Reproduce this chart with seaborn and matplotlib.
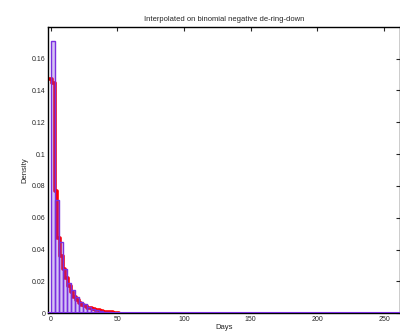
import numpy as np
import pandas as pd
import matplotlib
matplotlib.use("Agg")
import matplotlib.pyplot as plt
import seaborn as sns

# Red step outline: 2 day bins, left bin edges and densities
red_left = [-1, 1, 3, 5, 7, 9, 11, 13, 15, 17, 19, 21, 23, 25, 27, 29, 31,
            33, 35, 37, 39, 41, 43, 45, 47, 49]
red_density = [0.147, 0.145, 0.077, 0.047, 0.036, 0.028, 0.022, 0.017,
               0.013, 0.010, 0.008, 0.0065, 0.005, 0.0042, 0.0035, 0.003,
               0.0025, 0.002, 0.0017, 0.0013, 0.001, 0.0008, 0.0006, 0.0005,
               0.0004, 0.0003]

# Purple histogram: 3 day bins
purple_left = [0, 3, 6, 9, 12, 15, 18, 21, 24, 27, 30, 33, 36, 39, 42, 45, 48]
purple_density = [0.171, 0.071, 0.045, 0.028, 0.019, 0.0144, 0.010, 0.007,
                  0.0055, 0.004, 0.0025, 0.0018, 0.0012, 0.0008, 0.0006,
                  0.0004, 0.0003]

x_ticks = [0, 50, 100, 150, 200, 250]
y_ticks = [0, 0.02, 0.04, 0.06, 0.08, 0.1, 0.12, 0.14, 0.16]

sns.set_style("white")
plt.rcParams['font.family'] = ['Liberation Sans', 'DejaVu Sans']

fig = plt.figure(figsize=(4, 3.36), dpi=100)
ax = fig.add_axes([0.12, 0.068, 0.88, 0.852])

red_w = red_left[1] - red_left[0]
red_edges = red_left + [red_left[-1] + red_w]
sns.histplot(x=[l + red_w / 2 for l in red_left], weights=red_density,
             bins=red_edges, stat='count', element='step', fill=False,
             color='#ff0000', linewidth=2.6, ax=ax, zorder=1)

pur_w = purple_left[1] - purple_left[0]
pur_edges = purple_left + [purple_left[-1] + pur_w]
sns.histplot(x=[l + pur_w / 2 for l in purple_left], weights=purple_density,
             bins=pur_edges, stat='count', facecolor=(0.47, 0.24, 0.86, 0.3),
             edgecolor='#7a2ee0', linewidth=1.0, ax=ax, zorder=2)
ax.axhline(0, color='#7a2ee0', linewidth=1.5, zorder=5)

ax.set_xlim(-2, 262)
ax.set_ylim(0, 0.18)
ax.set_xticks(x_ticks)
ax.set_xticklabels([str(t) for t in x_ticks])
ax.set_yticks(y_ticks)
ax.set_yticklabels(['0'] + [('%g' % t) for t in y_ticks[1:]])
ax.tick_params(direction='in', length=3, width=0.8, labelsize=5,
               top=True, right=True, pad=2)
for s in ax.spines.values():
    s.set_color('black')
    s.set_linewidth(1.0)

ax.set_xlabel('Days', fontsize=5.5, labelpad=1)
ax.set_ylabel('Density', fontsize=5.5, labelpad=2)
ax.set_title('Interpolated on binomial negative de-ring-down', fontsize=5.5, pad=4)

fig.savefig('out.png', dpi=100)
